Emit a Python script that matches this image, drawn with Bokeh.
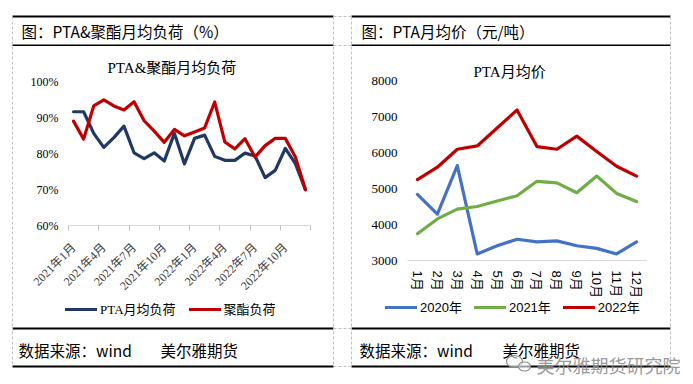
import math
from bokeh.plotting import figure
from bokeh.models import Range1d, FixedTicker, Legend, LegendItem
from bokeh.layouts import column, row
from bokeh.embed import file_html
from bokeh.resources import INLINE
from bokeh.core.properties import value

SERIF = "Liberation Serif, Noto Sans CJK SC"
SANS = "Liberation Sans, Noto Sans CJK SC"
CJK = "Noto Sans CJK SC"

# ---------------- data ----------------
load_months = [f"2021年{m}月" for m in range(1, 13)] + [f"2022年{m}月" for m in range(1, 13)]
load_tick_labels = ["2021年1月", "2021年4月", "2021年7月", "2021年10月",
                    "2022年1月", "2022年4月", "2022年7月", "2022年10月"]
load_y_ticks = [60, 70, 80, 90, 100]
pta_load = [91.6, 91.6, 85.6, 81.7, 84.4, 87.6, 80.2, 78.6, 80.2, 77.9, 85.6, 77.1,
            84.2, 85.1, 79.2, 78.1, 78.1, 80.1, 79.3, 73.3, 75.3, 81.4, 77.2, 69.9]
polyester_load = [89.0, 84.0, 93.2, 94.9, 93.2, 92.1, 94.4, 89.1, 86.2, 83.1, 86.7, 84.9,
                  86.0, 87.1, 94.3, 83.2, 81.3, 84.1, 79.0, 82.2, 84.2, 84.2, 79.0, 70.0]

price_months = [f"{m}月" for m in range(1, 13)]
price_y_ticks = [3000, 4000, 5000, 6000, 7000, 8000]
price_2020 = [4836, 4291, 5636, 3182, 3409, 3591, 3518, 3545, 3409, 3336, 3182, 3518]
price_2021 = [3745, 4155, 4427, 4500, 4655, 4800, 5200, 5155, 4882, 5345, 4864, 4636]
price_2022 = [5245, 5591, 6091, 6182, 6682, 7182, 6164, 6091, 6455, 6027, 5618, 5345]

load_series = [("PTA月均负荷", pta_load, "#1F3864"), ("聚酯负荷", polyester_load, "#C00000")]
price_series = [("2020年", price_2020, "#4472C4"), ("2021年", price_2021, "#70AD47"),
                ("2022年", price_2022, "#C00000")]

DASH_COLOR = "#BFBFBF"
EDGES = [12, 333, 351, 670]
LW = 3.2


def deco_fig(w, h, flip=True):
    yr = Range1d(h, 0) if flip else Range1d(0, h)
    f = figure(width=w, height=h, x_range=Range1d(0, w), y_range=yr,
               x_axis_type=None, y_axis_type=None, min_border=0, frame_align=False,
               toolbar_location=None, output_backend="svg")
    f.grid.visible = False
    f.outline_line_color = None
    f.background_fill_color = "white"
    f.border_fill_color = "white"
    return f


def style_common(p):
    p.grid.visible = False
    p.outline_line_color = None
    p.background_fill_color = "white"
    p.border_fill_color = "white"


def box_lines(f, y_top, y_bot, y_from, y_to):
    for (a, b) in [(12, 333), (351, 670)]:
        f.segment(x0=[a, a], y0=[y_top, y_bot], x1=[b, b], y1=[y_top, y_bot],
                  line_color="black", line_width=2)
    f.segment(x0=[333, 333], y0=[y_top, y_bot], x1=[351, 351], y1=[y_top, y_bot],
              line_color=DASH_COLOR, line_width=1, line_dash="3 2")
    f.segment(x0=EDGES, y0=[y_from] * 4, x1=EDGES, y1=[y_to] * 4,
              line_color=DASH_COLOR, line_width=1, line_dash="3 2")


# ---------------- header ----------------
hdr = deco_fig(693, 46)
box_lines(hdr, 16, 45, 16, 46)
hdr.text(x=[21, 361], y=[30, 30], text=["图：PTA&聚酯月均负荷（%）", "图：PTA月均价（元/吨）"],
         text_font=value(CJK), text_font_size="15.5px", text_color="black",
         text_baseline="middle", text_align="left")

# ---------------- footer ----------------
ftr = deco_fig(693, 58)
box_lines(ftr, 2, 40, 0, 40)
ftr.text(x=[18, 160, 359, 502], y=[23] * 4,
         text=["数据来源：wind", "美尔雅期货", "数据来源：wind", "美尔雅期货"],
         text_font=value(CJK), text_font_size="15.5px", text_color="black",
         text_baseline="middle", text_align="left")
ftr.ellipse(x=[514, 524], y=[35, 40], width=[16, 12], height=[12, 9], fill_color="white",
            line_color="#8C8C8C", line_width=1.2, fill_alpha=0.6)
ftr.text(x=[536], y=[38], text=["美尔雅期货研究院"], text_font=value(CJK), text_font_size="18px",
         text_color="#8C8C8C", text_alpha=0.9, text_baseline="middle", text_align="left")

CH = 254  # chart band height


# ---------------- edges in chart band ----------------
def edge(w, xs, h=CH):
    e = deco_fig(w, h)
    e.segment(x0=xs, y0=[0] * len(xs), x1=xs, y1=[h] * len(xs),
              line_color=DASH_COLOR, line_width=1, line_dash="3 2")
    return e


edgeA = edge(16, [12])
edgeB = edge(25, [3, 21])
edgeC = edge(27, [4])

# ---------------- left chart ----------------
x_load = list(range(len(load_months)))
pl = figure(width=314, height=CH, x_range=Range1d(-0.5, len(load_months) - 0.5),
            y_range=Range1d(load_y_ticks[0], load_y_ticks[-1]),
            output_backend="svg", toolbar_location=None, frame_align=False,
            min_border_left=52, min_border_right=20, min_border_top=35, min_border_bottom=CH - 182)
style_common(pl)
for name, vals, col in load_series:
    pl.line(x_load, vals, line_color=col, line_width=LW, line_join="round", line_cap="round")

tick_pos = [load_months.index(t) for t in load_tick_labels]
pl.xaxis.ticker = FixedTicker(ticks=tick_pos,
                              minor_ticks=[t - 0.5 for t in tick_pos] + [len(load_months) - 0.5])
pl.xaxis.major_label_overrides = {p: lbl for p, lbl in zip(tick_pos, load_tick_labels)}
pl.xaxis.major_tick_line_color = None
pl.xaxis.major_tick_out = 0
pl.xaxis.major_tick_in = 0
pl.xaxis.minor_tick_line_color = "#BFBFBF"
pl.xaxis.minor_tick_out = 5
pl.xaxis.minor_tick_in = 0
pl.xaxis.axis_line_color = "#D9D9D9"
pl.xaxis.major_label_orientation = math.pi / 4
pl.xaxis.major_label_text_font = SERIF
pl.xaxis.major_label_text_font_size = "12px"
pl.xaxis.major_label_text_color = "#404040"
pl.xaxis.major_label_standoff = 15

pl.yaxis.ticker = FixedTicker(ticks=load_y_ticks)
pl.yaxis.major_label_overrides = {v: f"{v}%" for v in load_y_ticks}
pl.yaxis.axis_line_color = None
pl.yaxis.major_tick_line_color = None
pl.yaxis.major_tick_out = 0
pl.yaxis.minor_tick_line_color = None
pl.yaxis.major_label_standoff = 10
pl.yaxis.major_label_text_font = SERIF
pl.yaxis.major_label_text_font_size = "12px"
pl.yaxis.major_label_text_color = "black"

pl.title.text = "PTA&聚酯月均负荷"
pl.title.align = "left"
pl.title.offset = 39
pl.title.text_font = SERIF
pl.title.text_font_size = "15px"
pl.title.text_font_style = "normal"
pl.title.text_color = "black"
pl.title.standoff = 12

# ---------------- right chart ----------------
x_price = list(range(len(price_months)))
pr = figure(width=311, height=CH, x_range=Range1d(-0.5, len(price_months) - 0.5),
            y_range=Range1d(price_y_ticks[0], price_y_ticks[-1]),
            output_backend="svg", toolbar_location=None, frame_align=False,
            min_border_left=52, min_border_right=20, min_border_top=34, min_border_bottom=CH - 217)
style_common(pr)
for name, vals, col in price_series:
    pr.line(x_price, vals, line_color=col, line_width=LW, line_join="round", line_cap="round")

pr.xaxis.ticker = FixedTicker(ticks=x_price)
pr.xaxis.major_label_overrides = {i: m for i, m in zip(x_price, price_months)}
pr.xaxis.major_tick_line_color = None
pr.xaxis.major_tick_out = 0
pr.xaxis.major_tick_in = 0
pr.xaxis.minor_tick_line_color = None
pr.xaxis.axis_line_color = "#D9D9D9"
pr.xaxis.major_label_orientation = -math.pi / 2
pr.xaxis.major_label_text_font = SANS
pr.xaxis.major_label_text_font_size = "13px"
pr.xaxis.major_label_text_color = "black"
pr.xaxis.major_label_standoff = 10

pr.yaxis.ticker = FixedTicker(ticks=price_y_ticks)
pr.yaxis.axis_line_color = None
pr.yaxis.major_tick_line_color = None
pr.yaxis.major_tick_out = 0
pr.yaxis.minor_tick_line_color = None
pr.yaxis.major_label_standoff = 10
pr.yaxis.major_label_text_font = SERIF
pr.yaxis.major_label_text_font_size = "13px"
pr.yaxis.major_label_text_color = "black"

pr.title.text = "PTA月均价"
pr.title.align = "left"
pr.title.offset = 66
pr.title.text_font = SERIF
pr.title.text_font_size = "15px"
pr.title.text_font_style = "normal"
pr.title.text_color = "black"
pr.title.standoff = 1

# ---------------- legend band ----------------
LH = 26
lb = deco_fig(693, LH, flip=False)
lb.segment(x0=EDGES, y0=[0] * 4, x1=EDGES, y1=[LH] * 4,
           line_color=DASH_COLOR, line_width=1, line_dash="3 2")


def legend_items(series):
    items = []
    for name, vals, col in series:
        r = lb.line(x=[-20, -10], y=[-20, -20], line_color=col, line_width=LW, line_cap="round")
        items.append(LegendItem(label=name, renderers=[r]))
    return items


legL = Legend(items=legend_items(load_series), orientation="horizontal", location=(65, 8),
              glyph_width=32, glyph_height=16, label_standoff=3, spacing=13, padding=0, margin=0,
              border_line_color=None, background_fill_alpha=0, label_text_font=SERIF,
              label_text_font_size="13px", label_text_color="black")
legR = Legend(items=legend_items(price_series), orientation="horizontal", location=(385, 10),
              glyph_width=32, glyph_height=16, label_standoff=3, spacing=12, padding=0, margin=0,
              border_line_color=None, background_fill_alpha=0, label_text_font=SANS,
              label_text_font_size="13px", label_text_color="black")
lb.add_layout(legL)
lb.add_layout(legR)

layout = column(hdr, row(edgeA, pl, edgeB, pr, edgeC), lb, ftr)

with open("out.html", "w") as fh:
    fh.write(file_html(layout, INLINE))
